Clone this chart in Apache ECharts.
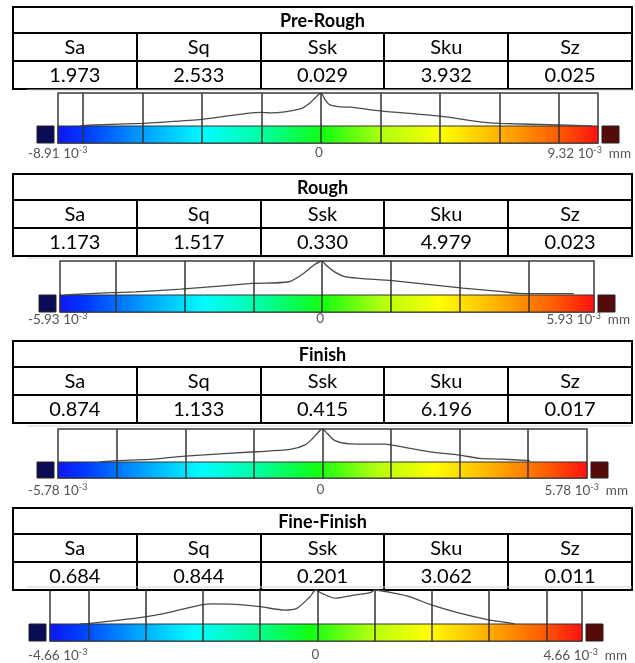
<!DOCTYPE html>
<html>
<head>
<meta charset="utf-8">
<script src="https://cdn.jsdelivr.net/npm/echarts@6/dist/echarts.min.js"></script>
<style>
  html, body { margin: 0; padding: 0; background: #fff; }
  #main { width: 635px; height: 663px; }
</style>
</head>
<body>
<div id="main"></div>
<script>
// ---- data ----
const stageNames = ['Pre-Rough', 'Rough', 'Finish', 'Fine-Finish'];
const paramNames = ['Sa', 'Sq', 'Ssk', 'Sku', 'Sz'];
const preRoughVals = [1.973, 2.533, 0.029, 3.932, 0.025];
const roughVals = [1.173, 1.517, 0.330, 4.979, 0.023];
const finishVals = [0.874, 1.133, 0.415, 6.196, 0.017];
const fineFinishVals = [0.684, 0.844, 0.201, 3.062, 0.011];

// colour scale end labels (x 10^-3 mm)
const scaleMinLabels = ['-8.91', '-5.93', '-5.78', '-4.66'];
const scaleMaxLabels = ['9.32', '5.93', '5.78', '4.66'];
// visible extent of each histogram axis
const axisMin = [-8.84, -5.72, -5.79, -4.67];
const axisMax = [9.31, 5.93, 5.79, 4.62];
// vertical divider lines
const preRoughSplits = [-8, -6, -4, -2, 0, 2, 4, 6, 8];
const roughSplits = [-4.5, -3, -1.5, 0, 1.5, 3, 4.5];
const finishSplits = [-4.5, -3, -1.5, 0, 1.5, 3, 4.5];
const fineFinishSplits = [-4, -3, -2, -1, 0, 1, 2, 3, 4];

// height distribution curves (relative, peak = 100)
const preRoughX = [-8.1, -7.6, -6.0, -5.4, -4.0, -2.0, -1.7, -0.7, -0.37, -0.17, 0, 0.14, 0.3, 0.64, 1.0, 2.0, 4.0, 5.4, 6.0, 8.0, 9.1];
const preRoughY = [0, 3, 8, 11, 20, 41, 40, 52, 70, 88, 100, 79, 64, 58, 57, 46, 30, 12, 8, 3, 0];
const roughX = [-5.62, -4.6, -4.07, -3.09, -1.53, -0.73, -0.4, -0.18, 0, 0.08, 0.27, 0.49, 0.82, 1.53, 3.07, 3.93, 4.27, 5.49];
const roughY = [0, 7, 9, 17, 34, 39, 64, 88, 100, 88, 68, 54, 49, 42, 20, 10, 5, 4];
const finishX = [-4.87, -4.5, -3.77, -3.01, -1.48, -0.71, -0.38, -0.21, 0, 0.1, 0.27, 0.6, 1.37, 1.5, 2.35, 3.0, 3.44, 3.88, 4.54];
const finishY = [0, 4, 8, 18, 31, 38, 52, 72, 100, 87, 65, 55, 54, 52, 31, 21, 11, 9, 4];
const fineFinishX = [-4.14, -3.8, -3.01, -2.57, -2.02, -1.84, -1.44, -1.0, -0.57, -0.36, -0.13, -0.03, 0.08, 0.31, 0.57, 0.92, 1.0, 1.36, 1.62, 1.99, 2.5, 2.99, 3.2, 3.45];
const fineFinishY = [0, 5, 21, 35, 56, 59, 58, 51, 41, 46, 80, 100, 90, 76, 83, 92, 100, 90, 80, 56, 31, 12, 7, 0];

const tableVals = [preRoughVals, roughVals, finishVals, fineFinishVals];
const splits = [preRoughSplits, roughSplits, finishSplits, fineFinishSplits];
const curvesX = [preRoughX, roughX, finishX, fineFinishX];
const curvesY = [preRoughY, roughY, finishY, fineFinishY];

// ---- layout ----
const FONT = 'Lato';
const tableTops = [7, 174, 341, 508];
const tableLeft = 13, tableRight = 632;
const rowH = [26, 28, 28];
const grids = [
  {left: 58, top: 93, width: 540, height: 50},
  {left: 60, top: 261, width: 534, height: 51},
  {left: 58, top: 429, width: 529, height: 49},
  {left: 50, top: 590, width: 532, height: 51}
];
const barH = [17, 17, 16, 17];
const labelY = [154, 320, 491, 656];
const labelRight = [631, 630, 628, 627];

const colorStops = [
  {offset: 0, color: '#1018f0'},
  {offset: 0.05, color: '#0038ff'},
  {offset: 0.16, color: '#00a0ff'},
  {offset: 0.27, color: '#00fcff'},
  {offset: 0.38, color: '#00ffa0'},
  {offset: 0.49, color: '#10ff10'},
  {offset: 0.6, color: '#b0ff10'},
  {offset: 0.71, color: '#ffff00'},
  {offset: 0.82, color: '#ffb000'},
  {offset: 0.92, color: '#ff6000'},
  {offset: 1, color: '#ff1010'}
];

const chart = echarts.init(document.getElementById('main'));

// tables
const graphic = [];
const colW = (tableRight - tableLeft) / paramNames.length;
tableTops.forEach((top, i) => {
  const h = rowH[0] + rowH[1] + rowH[2];
  graphic.push({
    type: 'rect', shape: {x: tableLeft, y: top, width: tableRight - tableLeft, height: h},
    style: {fill: '#fff', stroke: '#000', lineWidth: 2}
  });
  [rowH[0], rowH[0] + rowH[1]].forEach(dy => {
    graphic.push({
      type: 'line', shape: {x1: tableLeft, y1: top + dy, x2: tableRight, y2: top + dy},
      style: {stroke: '#000', lineWidth: 2}
    });
  });
  for (let c = 1; c < paramNames.length; c++) {
    const x = Math.round(tableLeft + c * colW);
    graphic.push({
      type: 'line', shape: {x1: x, y1: top + rowH[0], x2: x, y2: top + h},
      style: {stroke: '#000', lineWidth: 2}
    });
  }
  graphic.push({
    type: 'text', x: (tableLeft + tableRight) / 2, y: top + rowH[0] / 2 + 1,
    style: {text: stageNames[i], fontFamily: FONT, fontSize: 18, fontWeight: 'bold', fill: '#000', align: 'center', verticalAlign: 'middle'}
  });
  paramNames.forEach((p, c) => {
    const cx = tableLeft + (c + 0.5) * colW;
    graphic.push({
      type: 'text', x: cx, y: top + rowH[0] + rowH[1] / 2 + 1,
      style: {text: p, fontFamily: FONT, fontSize: 20, fill: '#000', align: 'center', verticalAlign: 'middle'}
    });
    graphic.push({
      type: 'text', x: cx, y: top + rowH[0] + rowH[1] + rowH[2] / 2 + 1,
      style: {text: tableVals[i][c].toFixed(3), fontFamily: FONT, fontSize: 20, fill: '#000', align: 'center', verticalAlign: 'middle'}
    });
  });
});

// swatches, frame line and scale labels
grids.forEach((g, i) => {
  const by = g.top + g.height - barH[i];
  graphic.push({
    type: 'line', shape: {x1: 27, y1: g.top - 3, x2: 632, y2: g.top - 3},
    style: {stroke: '#d4d4d4', lineWidth: 1}
  });
  graphic.push({
    type: 'rect', shape: {x: g.left - 21, y: by, width: 17, height: barH[i]},
    style: {fill: '#0a0c55', stroke: '#222', lineWidth: 1}
  });
  graphic.push({
    type: 'rect', shape: {x: g.left + g.width + 4, y: by, width: 17, height: barH[i]},
    style: {fill: '#560a0a', stroke: '#222', lineWidth: 1}
  });
  const rich = {
    a: {fontFamily: FONT, fontSize: 13.5, fill: '#555', lineHeight: 16},
    s: {fontFamily: FONT, fontSize: 9, fill: '#555', verticalAlign: 'top', lineHeight: 16, padding: [0, 0, 7, 0]}
  };
  graphic.push({
    type: 'text', x: 28, y: labelY[i],
    style: {text: '{a|' + scaleMinLabels[i] + ' 10}{s|-3}', rich: rich, align: 'left', verticalAlign: 'middle'}
  });
  graphic.push({
    type: 'text', x: labelRight[i], y: labelY[i],
    style: {text: '{a|' + scaleMaxLabels[i] + ' 10}{s|-3}{a|  mm}', rich: rich, align: 'right', verticalAlign: 'middle'}
  });
});

const yMin = grids.map((g, i) => -barH[i] / (g.height - barH[i]) * 100);

const option = {
  animation: false,
  backgroundColor: '#fff',
  grid: grids.map(g => Object.assign({show: true, borderColor: '#3a3a3a', borderWidth: 1.5, backgroundColor: '#fff'}, g)),
  xAxis: grids.map((g, i) => ({
    type: 'value', gridIndex: i, min: axisMin[i], max: axisMax[i], show: false
  })),
  yAxis: grids.map((g, i) => ({
    type: 'value', gridIndex: i, min: yMin[i], max: 100, show: false
  })),
  series: grids.map((g, i) => ({
    type: 'line',
    xAxisIndex: i, yAxisIndex: i,
    data: curvesX[i].map((x, j) => [x, curvesY[i][j]]),
    showSymbol: false,
    smooth: 0.25,
    lineStyle: {color: '#4a4a4a', width: 1.3},
    silent: true,
    markArea: {
      silent: true,
      z: 1,
      itemStyle: {
        color: new echarts.graphic.LinearGradient(0, 0, 1, 0, colorStops),
        borderColor: '#333', borderWidth: 1, opacity: 1
      },
      data: [[{xAxis: axisMin[i], yAxis: yMin[i]}, {xAxis: axisMax[i], yAxis: 0}]]
    },
    markLine: {
      silent: true,
      symbol: ['none', 'none'],
      label: {show: false},
      lineStyle: {color: '#333', width: 1.5, type: 'solid'},
      data: splits[i].map(v => ({xAxis: v}))
    }
  })),
  graphic: graphic
};
chart.setOption(option);

// the "0" labels sit under each zero line
const zeroLabels = grids.map((g, i) => {
  const px = chart.convertToPixel({gridIndex: i}, [0, 0])[0];
  return {
    type: 'text', x: px - 2, y: labelY[i] - 1,
    style: {text: '0', fontFamily: FONT, fontSize: 13.5, fill: '#555', align: 'center', verticalAlign: 'middle'}
  };
});
chart.setOption({graphic: graphic.concat(zeroLabels)});
</script>
</body>
</html>
